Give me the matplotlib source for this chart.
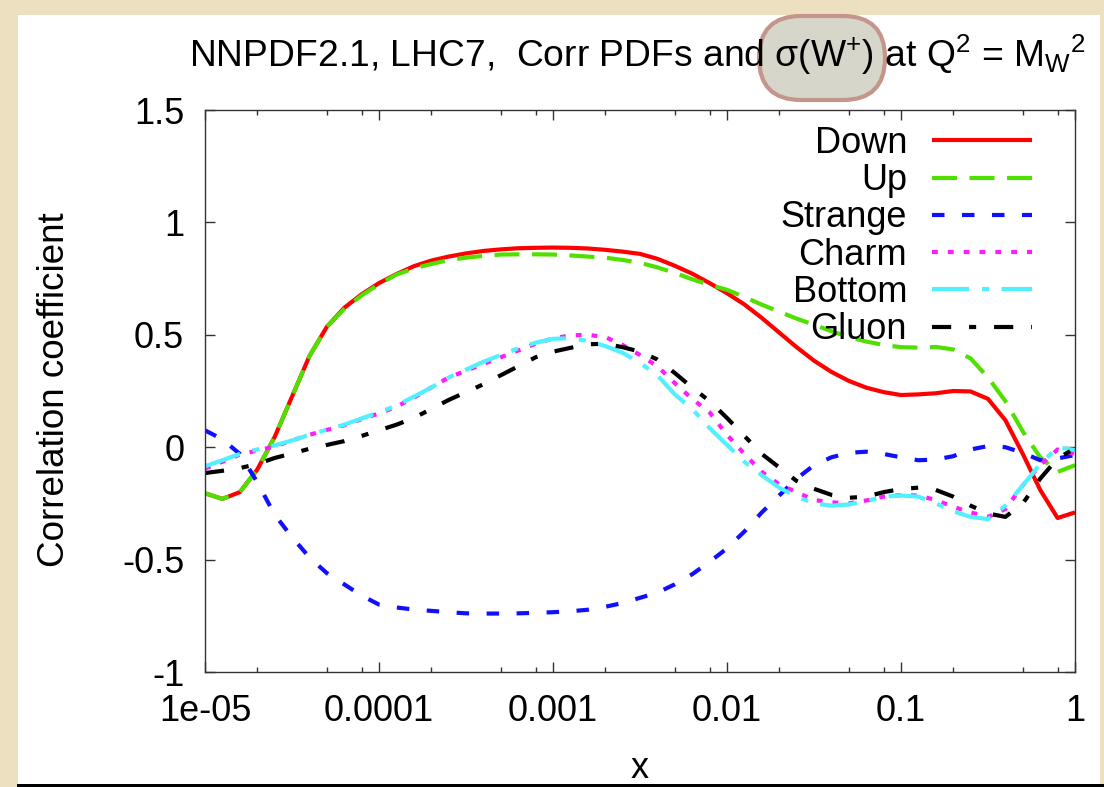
import numpy as np
import matplotlib
matplotlib.use('Agg')
import matplotlib.pyplot as plt
from matplotlib.patches import Rectangle, FancyBboxPatch
from matplotlib.ticker import FixedLocator, FixedFormatter, NullFormatter

plt.rcParams['font.family'] = ['Liberation Sans', 'DejaVu Sans']
plt.rcParams['mathtext.fontset'] = 'custom'
plt.rcParams['mathtext.rm'] = 'Liberation Sans'
plt.rcParams['mathtext.it'] = 'Liberation Sans:italic'
plt.rcParams['mathtext.sf'] = 'Liberation Sans'

# ---------------- data ----------------
log_x = [-5.0, -4.9, -4.8, -4.7, -4.6, -4.5, -4.4, -4.3, -4.2, -4.1,
         -4.0, -3.9, -3.8, -3.7, -3.6, -3.5, -3.4, -3.3, -3.2, -3.1,
         -3.0, -2.9, -2.8, -2.7, -2.6, -2.5, -2.4, -2.3, -2.2, -2.1,
         -2.0, -1.9, -1.8, -1.7, -1.6, -1.5, -1.4, -1.3, -1.2, -1.1,
         -1.0, -0.9, -0.8, -0.7, -0.6, -0.5, -0.4, -0.3, -0.2, -0.1, 0.0]

down = [-0.205, -0.23, -0.20, -0.10, 0.045, 0.225, 0.405, 0.535, 0.62, 0.68,
        0.73, 0.77, 0.805, 0.83, 0.848, 0.862, 0.873, 0.88, 0.885, 0.887,
        0.888, 0.887, 0.884, 0.878, 0.87, 0.86, 0.838, 0.807, 0.772, 0.73,
        0.685, 0.635, 0.575, 0.51, 0.445, 0.385, 0.335, 0.295, 0.265, 0.245,
        0.232, 0.235, 0.24, 0.25, 0.248, 0.215, 0.12, -0.03, -0.19, -0.315, -0.29]

up = [-0.205, -0.23, -0.20, -0.10, 0.045, 0.225, 0.405, 0.535, 0.615, 0.675,
      0.725, 0.768, 0.795, 0.815, 0.832, 0.843, 0.851, 0.857, 0.858, 0.858,
      0.857, 0.853, 0.848, 0.843, 0.833, 0.82, 0.80, 0.775, 0.747, 0.722,
      0.70, 0.668, 0.634, 0.603, 0.572, 0.545, 0.516, 0.49, 0.47, 0.455,
      0.445, 0.443, 0.446, 0.435, 0.395, 0.31, 0.205, 0.07, -0.045, -0.11, -0.08]

strange = [0.075, 0.035, -0.03, -0.155, -0.30, -0.40, -0.49, -0.56, -0.61, -0.66,
           -0.70, -0.713, -0.722, -0.728, -0.734, -0.739, -0.74, -0.74, -0.739, -0.737,
           -0.734, -0.73, -0.723, -0.71, -0.693, -0.67, -0.647, -0.61, -0.565, -0.51,
           -0.45, -0.375, -0.29, -0.215, -0.14, -0.08, -0.045, -0.025, -0.02, -0.03,
           -0.045, -0.058, -0.055, -0.04, -0.01, 0.005, 0.0, -0.025, -0.058, -0.05, -0.035]

charm = [-0.095, -0.065, -0.033, -0.015, 0.003, 0.03, 0.055, 0.077, 0.097, 0.125,
         0.15, 0.18, 0.22, 0.265, 0.31, 0.34, 0.37, 0.40, 0.43, 0.46,
         0.484, 0.497, 0.50, 0.49, 0.455, 0.41, 0.36, 0.285, 0.215, 0.155,
         0.055, -0.03, -0.11, -0.165, -0.20, -0.235, -0.245, -0.25, -0.237, -0.22,
         -0.213, -0.215, -0.235, -0.265, -0.29, -0.31, -0.275, -0.17, -0.08, -0.01, -0.03]

bottom = [-0.085, -0.058, -0.03, -0.01, 0.008, 0.03, 0.055, 0.078, 0.10, 0.128,
          0.155, 0.185, 0.225, 0.265, 0.31, 0.345, 0.38, 0.41, 0.44, 0.465,
          0.482, 0.485, 0.473, 0.45, 0.42, 0.375, 0.32, 0.235, 0.17, 0.085,
          0.01, -0.065, -0.125, -0.18, -0.22, -0.25, -0.26, -0.255, -0.24, -0.22,
          -0.215, -0.22, -0.25, -0.285, -0.31, -0.32, -0.26, -0.17, -0.075, 0.0, -0.013]

gluon = [-0.115, -0.105, -0.093, -0.075, -0.048, -0.028, -0.007, 0.01, 0.027, 0.05,
         0.075, 0.10, 0.13, 0.17, 0.21, 0.245, 0.28, 0.32, 0.36, 0.40,
         0.425, 0.442, 0.458, 0.46, 0.445, 0.425, 0.39, 0.33, 0.265, 0.205,
         0.13, 0.05, -0.03, -0.09, -0.15, -0.185, -0.212, -0.225, -0.22, -0.20,
         -0.186, -0.18, -0.19, -0.22, -0.26, -0.295, -0.31, -0.25, -0.14, -0.05, -0.005]

series_labels = ['Down', 'Up', 'Strange', 'Charm', 'Bottom', 'Gluon']
x_major = [1e-5, 1e-4, 1e-3, 1e-2, 1e-1, 1.0]
x_major_labels = ['1e-05', '0.0001', '0.001', '0.01', '0.1', '1']
y_major = [-1, -0.5, 0, 0.5, 1, 1.5]
y_major_labels = ['-1', '-0.5', '0', '0.5', '1', '1.5']

# ---------------- figure ----------------
W, H = 1104, 787
fig = plt.figure(figsize=(W / 100, H / 100), dpi=100)
fig.patch.set_facecolor('#ece0c1')

def fx(px):
    return px / W

def fy(py):
    return 1 - py / H

# white slide panel
fig.patches.append(Rectangle((fx(18), fy(784)), fx(1100) - fx(18), fy(15) - fy(784),
                             transform=fig.transFigure, facecolor='white',
                             edgecolor='none', zorder=0))
# black bottom rule
fig.patches.append(Rectangle((fx(17), 0), 1 - fx(17), 3 / H,
                             transform=fig.transFigure, facecolor='black',
                             edgecolor='none', zorder=1))
# highlight around sigma(W+)  (display pixels, origin bottom-left)
fig.patches.append(FancyBboxPatch((759, H - 100), 126, 84,
                                  boxstyle='round,pad=0,rounding_size=42',
                                  transform=None, facecolor='#d6d6ca',
                                  edgecolor='#c4958a', linewidth=3.0, zorder=2))

ax = fig.add_axes([fx(205), fy(672), fx(1075) - fx(205), fy(110) - fy(672)])
ax.set_facecolor('none')
ax.set_zorder(3)

x = 10.0 ** np.array(log_x)
lw = 3.0
ax.plot(x, down, color='#ff0000', lw=lw, label=series_labels[0], solid_capstyle='butt')
ax.plot(x, up, color='#50e000', lw=lw, dashes=(6.0, 3.0), label=series_labels[1],
        dash_capstyle='butt')
ax.plot(x, strange, color='#1010ff', lw=lw, dashes=(3.0, 4.2), label=series_labels[2],
        dash_capstyle='butt')
ax.plot(x, charm, color='#ff1aff', lw=lw, dashes=(1.4, 2.4), label=series_labels[3],
        dash_capstyle='butt')
ax.plot(x, bottom, color='#50f0ff', lw=lw, dashes=(8.9, 3.1, 1.7, 3.0),
        label=series_labels[4], dash_capstyle='butt')
ax.plot(x, gluon, color='#000000', lw=lw, dashes=(4.6, 4.3, 1.7, 4.3),
        label=series_labels[5], dash_capstyle='butt')

ax.set_xscale('log')
ax.set_xlim(1e-5, 1.0)
ax.set_ylim(-1, 1.5)

minor = [m * 10.0 ** k for k in range(-5, 0) for m in (2, 5, 8)]
ax.xaxis.set_major_locator(FixedLocator(x_major))
ax.xaxis.set_major_formatter(FixedFormatter(x_major_labels))
ax.xaxis.set_minor_locator(FixedLocator(minor))
ax.xaxis.set_minor_formatter(NullFormatter())
ax.yaxis.set_major_locator(FixedLocator(y_major))
ax.yaxis.set_major_formatter(FixedFormatter(y_major_labels))
ax.yaxis.set_minor_locator(FixedLocator([]))

ax.tick_params(which='both', direction='in', top=True, right=True,
               color='#333333', width=1.0, labelsize=26, labelcolor='black')
ax.tick_params(which='major', length=7)
ax.tick_params(which='minor', length=3.5)
ax.tick_params(axis='y', pad=15)
ax.tick_params(axis='x', pad=16)
for s in ax.spines.values():
    s.set_color('#333333')
    s.set_linewidth(1.0)

leg = ax.legend(loc='upper right', bbox_to_anchor=((1032 - 205) / 870, (672 - 126) / 562),
                frameon=False, markerfirst=False, fontsize=26, handlelength=2.77,
                handletextpad=0.69, labelspacing=0.062, borderpad=0, borderaxespad=0)

fig.text(fx(637), fy(67), 'NNPDF2.1, LHC7,  Corr PDFs and σ(W$^{+}$) at Q$^{2}$ = M$_{\\mathrm{W}}$$^{2}$',
         ha='center', va='baseline', fontsize=26.8, zorder=5)
fig.text(fx(55), fy(390), 'Correlation coefficient', rotation=90,
         ha='center', va='center', fontsize=26.5)
fig.text(fx(640), fy(778), 'x', ha='center', va='baseline', fontsize=26)

fig.savefig('out.png', dpi=100, facecolor=fig.get_facecolor())
